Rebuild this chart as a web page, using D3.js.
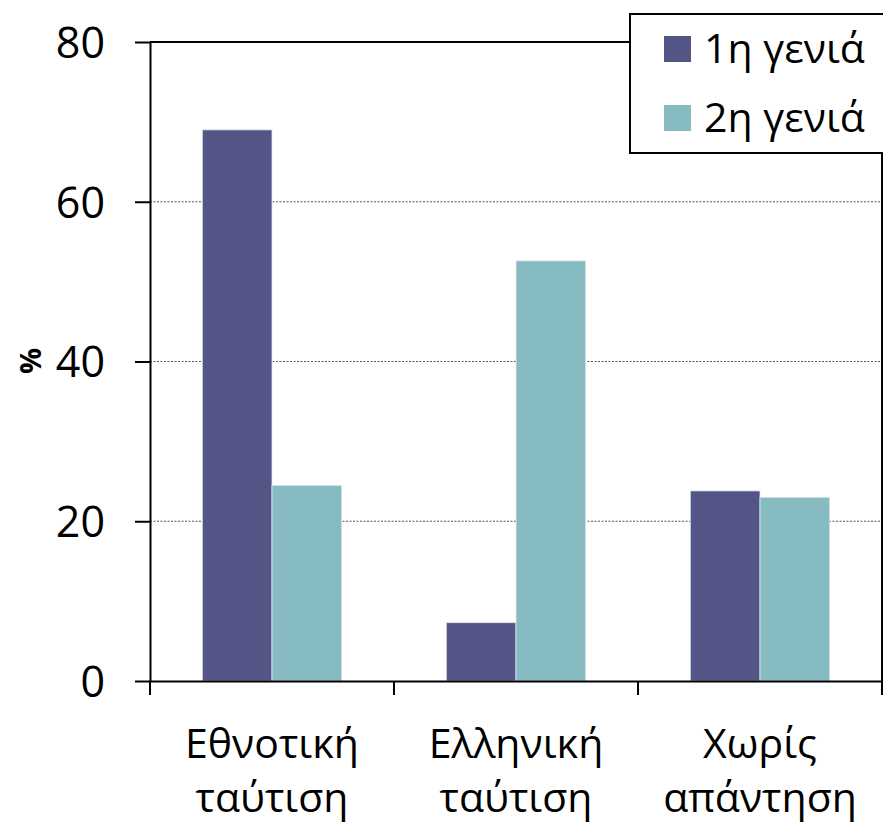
<!DOCTYPE html>
<html><head><meta charset="utf-8">
<script src="https://cdn.jsdelivr.net/npm/d3@7"></script>
<style>body{margin:0;background:#fff}svg{display:block}</style>
</head><body>
<svg id="c" width="883" height="823"></svg>
<script>
const categories = [["Εθνοτική","ταύτιση"],["Ελληνική","ταύτιση"],["Χωρίς","απάντηση"]];
const seriesNames = ["1η γενιά","2η γενιά"];
const gen1 = [69.0, 7.3, 23.8];
const gen2 = [24.5, 52.6, 23.0];
const yTicks = [0,20,40,60,80];
const colors = ["#545587","#86bcc1"];

const svg = d3.select("#c");
const M = {l:150, r:882, t:42, b:681};
const font = "'Open Sans', sans-serif";
const x0 = d3.scaleBand().domain(d3.range(categories.length)).range([M.l, M.r]).padding(0);
const x1 = d3.scaleBand().domain(d3.range(seriesNames.length)).range([0, x0.bandwidth()]).paddingInner(0).paddingOuter(0.75);
const y = d3.scaleLinear().domain([0,80]).range([M.b, M.t]);

// gridlines
svg.append("g").selectAll("line").data(yTicks.filter(d=>d>0&&d<80)).join("line")
  .attr("x1",M.l).attr("x2",M.r).attr("y1",d=>y(d)).attr("y2",d=>y(d))
  .attr("stroke","#555").attr("stroke-width",1.2).attr("stroke-dasharray","2,1.5");

// bars
const data = categories.map((c,i)=>[gen1[i],gen2[i]]);
const g = svg.append("g");
data.forEach((vals,i)=>{
  g.selectAll(null).data(vals).join("rect")
    .attr("x",(d,j)=>x0(i)+x1(j)).attr("width",x1.bandwidth())
    .attr("y",d=>y(d)).attr("height",d=>y(0)-y(d))
    .attr("fill",(d,j)=>colors[j]).attr("stroke","#e4e8f0").attr("stroke-width",0.8);
});

// frame: top and right
svg.append("line").attr("x1",M.l).attr("x2",M.r).attr("y1",M.t).attr("y2",M.t).attr("stroke","#000").attr("stroke-width",2);
svg.append("line").attr("x1",M.r).attr("x2",M.r).attr("y1",M.t).attr("y2",M.b).attr("stroke","#000").attr("stroke-width",2);

// y axis
const ya = svg.append("g").attr("transform",`translate(${M.l},0)`)
  .call(d3.axisLeft(y).tickValues(yTicks).tickSize(15).tickPadding(30).tickSizeOuter(0));
ya.select(".domain").attr("stroke","#000").attr("stroke-width",2);
ya.selectAll(".tick line").attr("stroke","#000").attr("stroke-width",2);
ya.selectAll(".tick text").attr("font-family",font).attr("font-size",43).attr("fill","#000").attr("dy","0.36em");

// x axis
const xa = svg.append("g").attr("transform",`translate(0,${M.b})`)
  .call(d3.axisBottom(x0).tickValues([]).tickSizeOuter(0));
xa.select(".domain").attr("stroke","#000").attr("stroke-width",2);
const bounds = [0,1,2,3].map(i=> i<3 ? x0(i) : x0(2)+x0.bandwidth());
xa.selectAll("line.bt").data(bounds).join("line").attr("class","bt")
  .attr("x1",d=>d).attr("x2",d=>d).attr("y1",0).attr("y2",14).attr("stroke","#000").attr("stroke-width",2);
xa.selectAll("text.cat").data(categories).join("text").attr("class","cat")
  .attr("x",(d,i)=>x0(i)+x0.bandwidth()/2).attr("y",77)
  .attr("text-anchor","middle").attr("font-family",font).attr("font-size",41).attr("fill","#000")
  .selectAll("tspan").data(d=>d).join("tspan")
  .attr("x",function(){return this.parentNode.getAttribute("x");})
  .attr("dy",(d,k)=>k===0?0:54).text(d=>d);

// y label
svg.append("text").attr("transform","translate(41,361) rotate(-90)")
  .attr("text-anchor","middle").attr("font-family",font).attr("font-weight","bold")
  .attr("font-size",29).attr("fill","#000").text("%");

// legend
const lg = svg.append("g");
lg.append("rect").attr("x",630).attr("y",14).attr("width",270).attr("height",139)
  .attr("fill","#fff").attr("stroke","#000").attr("stroke-width",2);
seriesNames.forEach((s,i)=>{
  lg.append("rect").attr("x",664).attr("y",36+i*69).attr("width",27).attr("height",26).attr("fill",colors[i]);
  lg.append("text").attr("x",704).attr("y",63+i*69).attr("font-family",font).attr("font-size",41)
    .attr("fill","#000").text(s);
});
</script>
</body></html>
